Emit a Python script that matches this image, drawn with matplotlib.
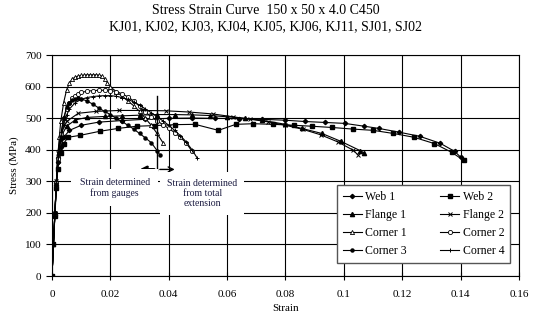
import matplotlib
matplotlib.use('Agg')
import matplotlib.pyplot as plt

plt.rcParams['font.family'] = ['Liberation Serif', 'DejaVu Serif']

# Web / flange / corner coupons: strain vs stress (MPa)
web1_strain = [0, 0.0005, 0.001, 0.0015, 0.002, 0.003, 0.004, 0.006, 0.01, 0.016, 0.024, 0.032, 0.04,
               0.048, 0.056, 0.064, 0.072, 0.08, 0.0866, 0.0935, 0.1003, 0.107, 0.112, 0.119, 0.126,
               0.133, 0.138, 0.14]
web1_stress = [0, 100, 200, 290, 360, 410, 440, 462, 478, 488, 493, 497, 500, 501, 500, 499, 497, 494,
               490, 487, 484, 475, 468, 456, 443, 421, 395, 377]

web2_strain = [0, 0.0005, 0.001, 0.0015, 0.002, 0.003, 0.004, 0.0055, 0.0096, 0.0164, 0.0226, 0.029,
               0.035, 0.042, 0.049, 0.057, 0.063, 0.069, 0.0757, 0.083, 0.089, 0.096, 0.103, 0.11,
               0.117, 0.124, 0.131, 0.137, 0.141]
web2_stress = [0, 100, 190, 280, 340, 390, 420, 440, 446, 459, 468, 475, 477, 480, 481, 462, 481, 483,
               481, 478, 475, 471, 466, 462, 452, 440, 420, 392, 367]

flange1_strain = [0, 0.0005, 0.001, 0.0015, 0.002, 0.003, 0.005, 0.008, 0.012, 0.018, 0.024, 0.03,
                  0.036, 0.042, 0.048, 0.054, 0.06, 0.066, 0.072, 0.08, 0.0856, 0.0925, 0.099, 0.1055,
                  0.107]
flange1_stress = [0, 100, 200, 300, 380, 440, 475, 495, 503, 506, 508, 510, 512, 512, 511, 509, 505,
                  500, 494, 481, 468, 452, 427, 398, 390]

flange2_strain = [0, 0.0005, 0.001, 0.0015, 0.002, 0.003, 0.005, 0.009, 0.015, 0.023, 0.031, 0.039,
                  0.047, 0.055, 0.062, 0.068, 0.074, 0.08, 0.086, 0.092, 0.098, 0.103, 0.105]
flange2_stress = [0, 100, 200, 300, 390, 450, 490, 516, 522, 525, 525, 524, 520, 514, 505, 497, 489,
                  478, 465, 448, 425, 400, 383]

corner1_strain = [0, 0.0005, 0.001, 0.0015, 0.002, 0.0025, 0.003, 0.004, 0.005, 0.006, 0.007, 0.008,
                  0.009, 0.010, 0.011, 0.012, 0.013, 0.014, 0.015, 0.016, 0.017, 0.018, 0.019, 0.02,
                  0.022, 0.024, 0.026, 0.028, 0.03, 0.032, 0.034, 0.036, 0.038]
corner1_stress = [0, 100, 200, 300, 380, 440, 490, 550, 590, 612, 625, 631, 634, 636, 637, 638, 638,
                  638, 638, 637, 634, 625, 613, 600, 585, 570, 555, 540, 522, 500, 478, 452, 423]

corner2_strain = [0, 0.0005, 0.001, 0.0015, 0.002, 0.003, 0.004, 0.005, 0.006, 0.007, 0.008, 0.009,
                  0.010, 0.012, 0.014, 0.016, 0.018, 0.020, 0.022, 0.024, 0.026, 0.028, 0.030, 0.032,
                  0.034, 0.036, 0.038, 0.040, 0.042, 0.044, 0.046, 0.048]
corner2_stress = [0, 100, 200, 290, 370, 450, 500, 530, 550, 563, 572, 578, 582, 586, 588, 589, 589,
                  588, 585, 578, 568, 555, 538, 520, 505, 492, 480, 468, 455, 440, 422, 395]

corner3_strain = [0, 0.0005, 0.001, 0.0015, 0.002, 0.003, 0.004, 0.005, 0.006, 0.007, 0.008, 0.009,
                  0.010, 0.012, 0.014, 0.016, 0.018, 0.020, 0.022, 0.024, 0.026, 0.028, 0.030, 0.032,
                  0.034, 0.036, 0.037]
corner3_stress = [0, 100, 200, 290, 360, 440, 500, 535, 550, 558, 562, 563, 562, 555, 545, 533, 522,
                  512, 500, 490, 478, 466, 452, 438, 423, 398, 383]

corner4_strain = [0, 0.0005, 0.001, 0.0015, 0.002, 0.003, 0.004, 0.005, 0.006, 0.008, 0.010, 0.012,
                  0.014, 0.016, 0.018, 0.020, 0.022, 0.024, 0.026, 0.028, 0.030, 0.032, 0.034, 0.036,
                  0.038, 0.040, 0.042, 0.044, 0.046, 0.048, 0.0497]
corner4_stress = [0, 100, 200, 290, 360, 430, 480, 510, 530, 550, 560, 566, 569, 571, 572, 572, 570,
                  566, 560, 552, 542, 530, 518, 505, 492, 478, 462, 445, 425, 400, 375]

fig = plt.figure(figsize=(5.53, 3.29), dpi=100)
ax = fig.add_axes([0.094, 0.161, 0.8445, 0.671])

lw = 0.8
h = {}
h['Web 1'], = ax.plot(web1_strain, web1_stress, color='black', lw=lw, marker='D', ms=2.2, label='Web 1')
h['Web 2'], = ax.plot(web2_strain, web2_stress, color='black', lw=lw, marker='s', ms=3.2, label='Web 2')
h['Flange 1'], = ax.plot(flange1_strain, flange1_stress, color='black', lw=lw, marker='^', ms=3,
                         label='Flange 1')
h['Flange 2'], = ax.plot(flange2_strain, flange2_stress, color='black', lw=lw, marker='x', ms=3, mew=0.7,
                         label='Flange 2')
h['Corner 1'], = ax.plot(corner1_strain, corner1_stress, color='black', lw=lw, marker='^', ms=3,
                         mfc='white', mew=0.6, label='Corner 1')
h['Corner 2'], = ax.plot(corner2_strain, corner2_stress, color='black', lw=lw, marker='o', ms=3,
                         mfc='white', mew=0.6, label='Corner 2')
h['Corner 3'], = ax.plot(corner3_strain, corner3_stress, color='black', lw=lw, marker='o', ms=2.2,
                         label='Corner 3')
h['Corner 4'], = ax.plot(corner4_strain, corner4_stress, color='black', lw=lw, marker='+', ms=3.5, mew=0.7,
                         label='Corner 4')

ax.set_xlim(0, 0.16)
ax.set_ylim(0, 700)
ax.set_xticks([0, 0.02, 0.04, 0.06, 0.08, 0.1, 0.12, 0.14, 0.16])
ax.set_xticklabels(['0', '0.02', '0.04', '0.06', '0.08', '0.1', '0.12', '0.14', '0.16'])
ax.set_yticks(range(0, 701, 100))
ax.grid(True, color='black', lw=0.8)
ax.set_axisbelow(True)
ax.tick_params(axis='x', direction='inout', length=6, labelsize=8, pad=7)
ax.tick_params(axis='y', direction='out', length=4, labelsize=8)
for s in ax.spines.values():
    s.set_linewidth(0.8)
ax.set_xlabel('Strain', fontsize=8)
ax.set_ylabel('Stress (MPa)', fontsize=8)

# annotation: gauge vs total extension
ax.plot([0.036, 0.036], [335, 570], color='black', lw=1)
ax.annotate('', xy=(0.029, 338), xytext=(0.036, 338),
            arrowprops=dict(arrowstyle='->', color='black', lw=2, mutation_scale=9))
ax.annotate('', xy=(0.043, 338), xytext=(0.036, 338),
            arrowprops=dict(arrowstyle='->', color='black', lw=1, mutation_scale=9))
ax.text(0.0215, 280, 'Strain determined\nfrom gauges', ha='center', va='center', fontsize=7,
        color='#1a1a40', bbox=dict(facecolor='white', edgecolor='none', pad=6))
ax.text(0.0515, 262, 'Strain determined\nfrom total\nextension', ha='center', va='center', fontsize=7,
        color='#1a1a40', bbox=dict(facecolor='white', edgecolor='none', pad=5))

# row-major legend order (Web 1, Web 2 / Flange 1, Flange 2 / ...)
order = ['Web 1', 'Flange 1', 'Corner 1', 'Corner 3', 'Web 2', 'Flange 2', 'Corner 2', 'Corner 4']
ax.legend([h[k] for k in order], order, ncol=2, loc='lower right', bbox_to_anchor=(0.981, 0.059),
          borderaxespad=0, fontsize=8.5, frameon=True, fancybox=False, edgecolor='#555555',
          framealpha=1, columnspacing=2.8, handlelength=1.6, handletextpad=0.3, labelspacing=0.5,
          borderpad=0.5)

fig.text(0.48, 0.968, 'Stress Strain Curve  150 x 50 x 4.0 C450', ha='center', va='center', fontsize=10)
fig.text(0.48, 0.918, 'KJ01, KJ02, KJ03, KJ04, KJ05, KJ06, KJ11, SJ01, SJ02', ha='center', va='center',
         fontsize=10)

fig.savefig('out.png', dpi=100)
